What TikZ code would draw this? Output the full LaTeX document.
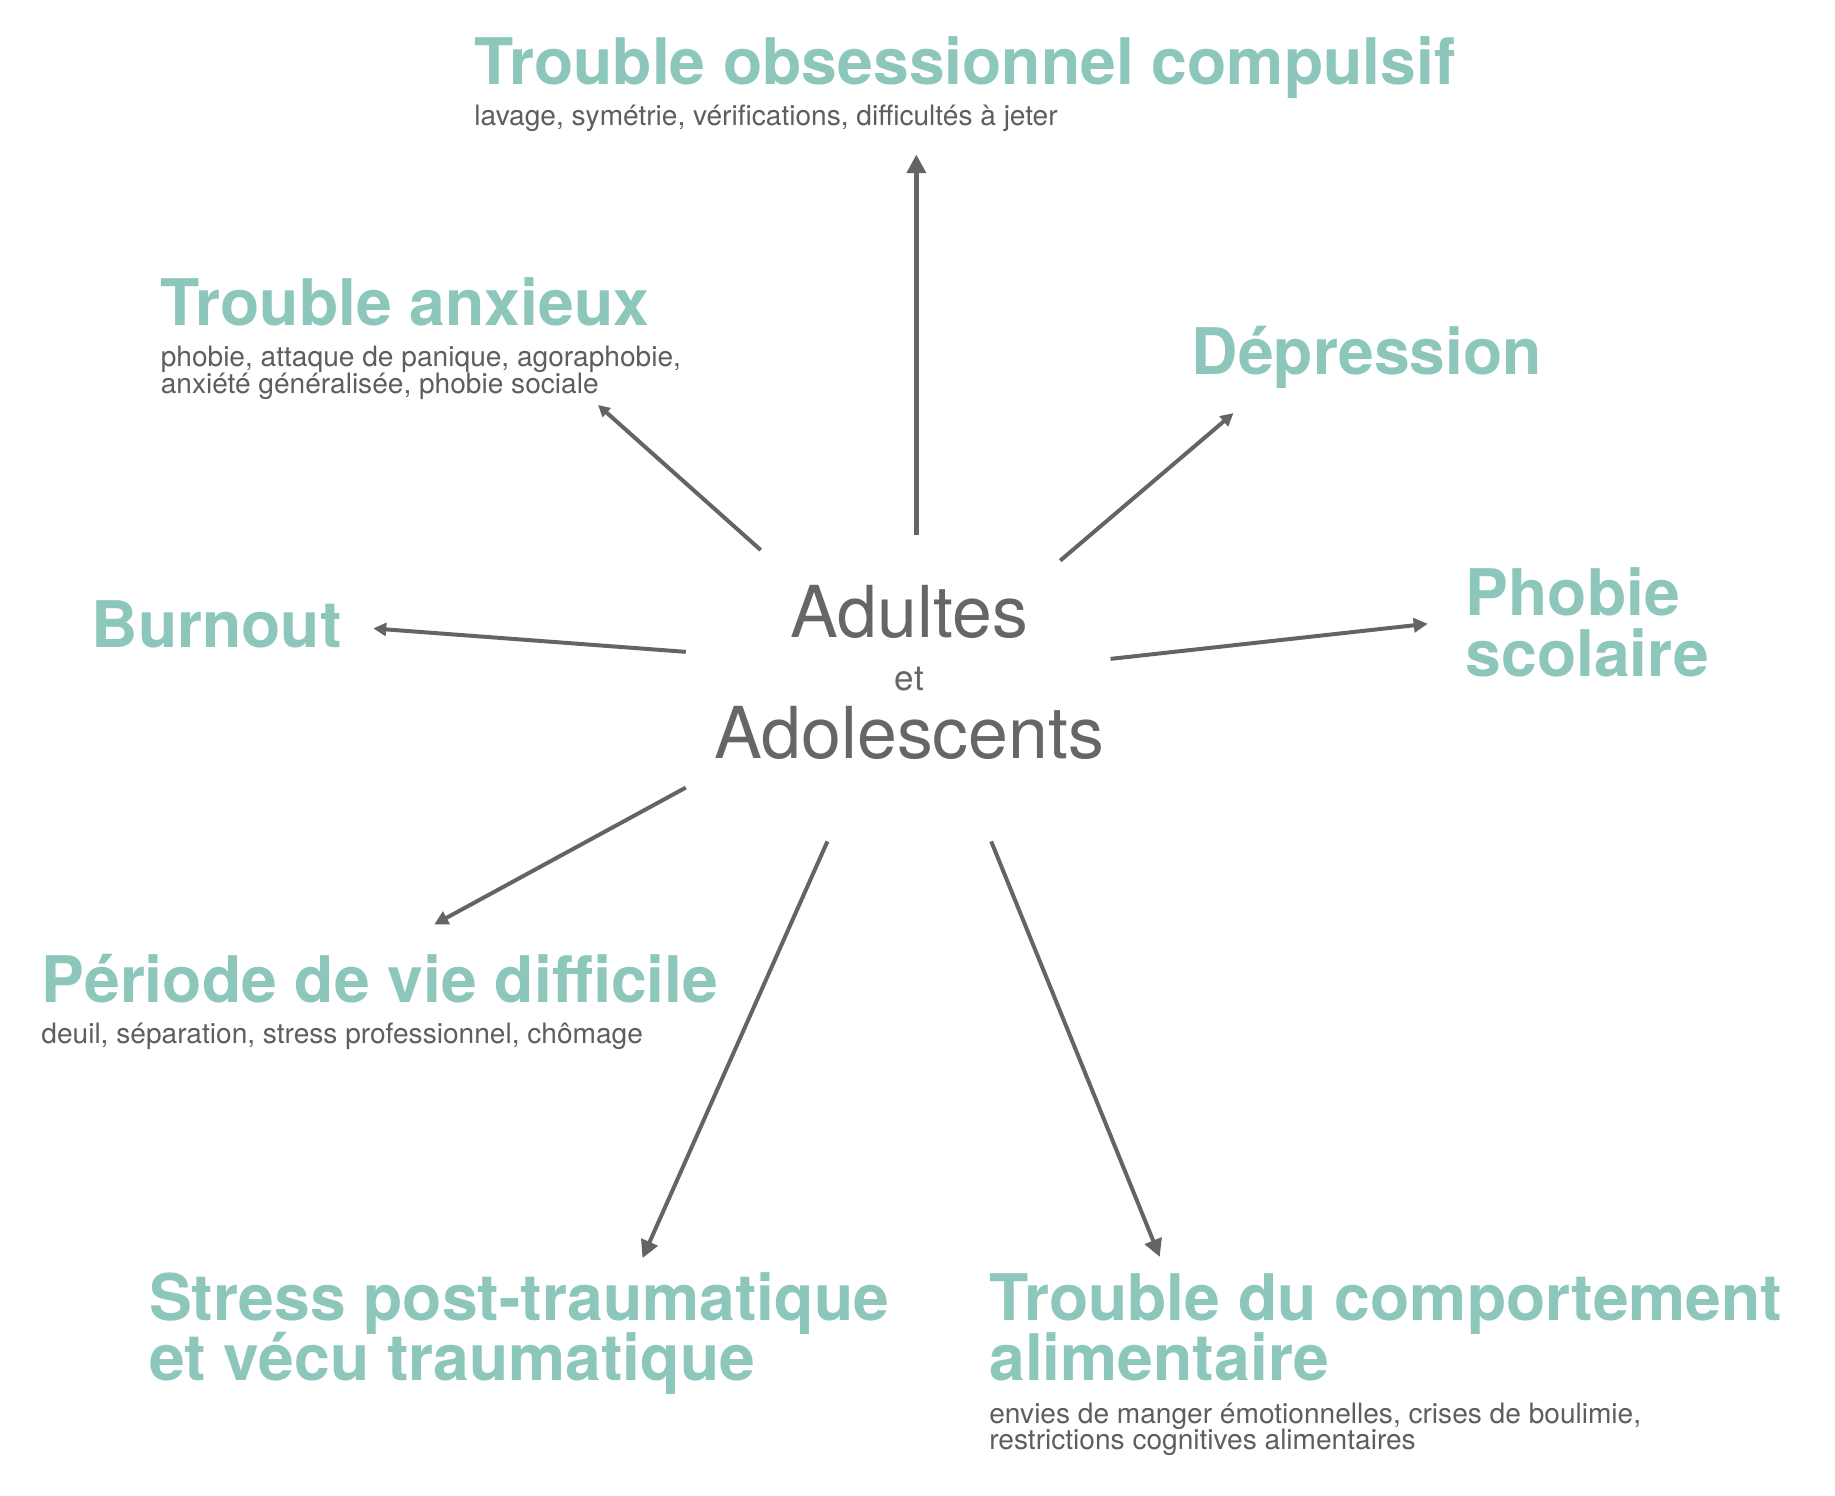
\documentclass[tikz,border=0pt]{standalone}
\usepackage{fontspec}
\setmainfont{TeX Gyre Heros}
\usetikzlibrary{arrows.meta}
\definecolor{myteal}{HTML}{8DC7BB}
\definecolor{subgrey}{HTML}{5E5E5E}
\definecolor{midgrey}{HTML}{666666}
\definecolor{arrgrey}{HTML}{646464}
\newcommand\mytwo[2]{\vtop{\lineskiplimit=-100pt\hbox{#1}\hbox{#2}}}
\begin{document}
\begin{tikzpicture}[x=0.5pt,y=-0.5pt,
  ttl/.style={anchor=base west, inner sep=0pt, text=myteal, font=\fontsize{27.45}{26}\selectfont\bfseries},
  sub/.style={anchor=base west, inner sep=0pt, text=subgrey, font=\fontsize{12}{11.5}\selectfont},
  ctr/.style={anchor=base, inner sep=0pt, text=midgrey},
  arr/.style={draw=arrgrey, line width=1.7pt, -{Triangle[length=#1,width=#1]}},
  arr/.default=6pt]
\fill[white] (0,0) rectangle (1568,1278.3);
\useasboundingbox (0,0) rectangle (1568,1278.3);

% centre
\node[ctr, font=\fontsize{30.6}{30}\selectfont] (adu) at (777,545) {Adultes};
\node[ctr, font=\fontsize{15}{15}\selectfont] (et) at (777,590) {et};
\node[ctr, font=\fontsize{30.6}{30}\selectfont] (ado) at (777,648) {Adolescents};

% labels
\node[ttl] (toc) at (405,72) {Trouble obsessionnel compulsif};
\node[sub] (tocs) at (405,107) {lavage, symétrie, vérifications, difficultés à jeter};

\node[ttl] (anx) at (137,278) {Trouble anxieux};
\node[sub] (anxs) at (137,313) {\mytwo{phobie, attaque de panique, agoraphobie,}{anxiété généralisée, phobie sociale}};

\node[ttl] (dep) at (1018,320) {Dépression};

\node[ttl] (pho) at (1252,526) {\mytwo{Phobie}{scolaire}};

\node[ttl] (bur) at (78,553) {Burnout};

\node[ttl] (per) at (35,857) {Période de vie difficile};
\node[sub] (pers) at (35,892) {deuil, séparation, stress professionnel, chômage};

\node[ttl] (pst) at (127,1128) {\mytwo{Stress post-traumatique}{et vécu traumatique}};

\node[ttl] (tca) at (845,1128) {\mytwo{Trouble du comportement}{alimentaire}};
\node[sub] (tcas) at (845,1216) {\mytwo{envies de manger émotionnelles, crises de boulimie,}{restrictions cognitives alimentaires}};

% connector ends
\coordinate (s1) at (783,457);  \coordinate (e1) at (783,132);
\coordinate (s2) at (650,470);  \coordinate (e2) at (511,346);
\coordinate (s3) at (906,479);  \coordinate (e3) at (1054,353);
\coordinate (s4) at (586,557);  \coordinate (e4) at (319,537);
\coordinate (s5) at (949,563);  \coordinate (e5) at (1220,533);
\coordinate (s6) at (586,673);  \coordinate (e6) at (371,790);
\coordinate (s7) at (707,719);  \coordinate (e7) at (549,1075);
\coordinate (s8) at (847,719);  \coordinate (e8) at (991,1074);

\draw[arr=8pt, line width=2pt] (s1) -- (e1);
\draw[arr=5pt] (s2) -- (e2);
\draw[arr=5.5pt] (s3) -- (e3);
\draw[arr=5.5pt] (s4) -- (e4);
\draw[arr=6pt] (s5) -- (e5);
\draw[arr=6pt] (s6) -- (e6);
\draw[arr=7.5pt] (s7) -- (e7);
\draw[arr=7.5pt] (s8) -- (e8);
\end{tikzpicture}
\end{document}
